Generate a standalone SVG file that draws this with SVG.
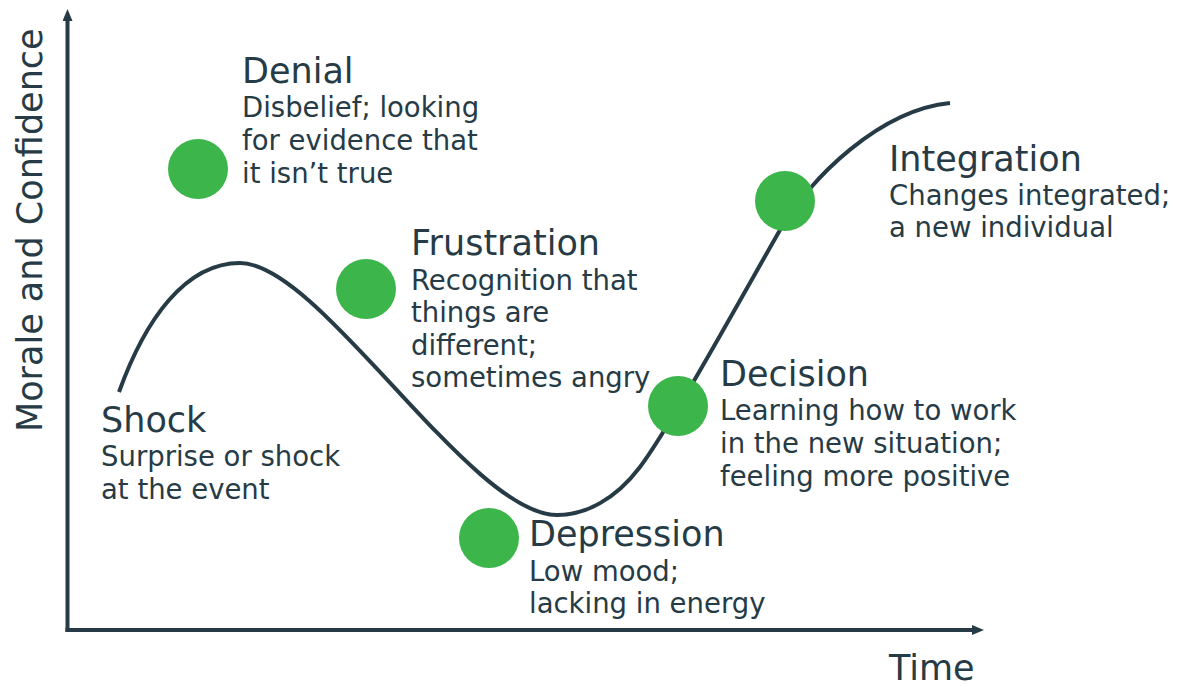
<svg xmlns="http://www.w3.org/2000/svg" width="1179" height="687" viewBox="0 0 1179 687">
<style>
  text { font-family: "DejaVu Sans", Verdana, sans-serif; fill: #263b45; }
  .title { font-size: 35px; }
  .body { font-size: 27.5px; }
  .dot { fill: #3cb54a; }
  .axis { stroke: #263b45; stroke-width: 4; fill: none; }
  .curve { stroke: #263b45; stroke-width: 4; fill: none; stroke-linecap: butt; }
</style>
<defs>
  <marker id="arrow" viewBox="0 0 12 10" refX="1" refY="5" markerWidth="12" markerHeight="10" markerUnits="userSpaceOnUse" orient="auto">
    <path d="M0,0 L12,5 L0,10 Z" fill="#263b45"/>
  </marker>
</defs>
<rect width="1179" height="687" fill="#ffffff"/>
<g id="axes">
  <path class="axis" d="M67.5,632 L67.5,20" marker-end="url(#arrow)"/>
  <path class="axis" d="M65.5,630 L973,630" marker-end="url(#arrow)"/>
  <text class="title" transform="translate(42,432) rotate(-90)">Morale and Confidence</text>
  <text class="title" x="889" y="680">Time</text>
</g>
<g id="connectors">
  <path class="curve" d="M119,392 C145,320 185,263 240,263 C320,263 470,515 557,515 C585,515 615,500 640,467 C670,427 740,300 780,230 C810,178 880,110 950,103"/>
</g>
<g id="node-shock">
  <text class="title" x="101" y="432">Shock</text>
  <text class="body" x="101" y="466">Surprise or shock</text>
  <text class="body" x="101" y="499">at the event</text>
</g>
<g id="node-denial">
  <circle class="dot" cx="198" cy="169" r="30"/>
  <text class="title" x="242" y="83">Denial</text>
  <text class="body" x="242" y="117">Disbelief; looking</text>
  <text class="body" x="242" y="150">for evidence that</text>
  <text class="body" x="242" y="183">it isn’t true</text>
</g>
<g id="node-frustration">
  <circle class="dot" cx="366" cy="289" r="30"/>
  <text class="title" x="411" y="255">Frustration</text>
  <text class="body" x="411" y="290">Recognition that</text>
  <text class="body" x="411" y="322">things are</text>
  <text class="body" x="411" y="355">different;</text>
  <text class="body" x="411" y="387">sometimes angry</text>
</g>
<g id="node-depression">
  <circle class="dot" cx="489" cy="538" r="30"/>
  <text class="title" x="529" y="546">Depression</text>
  <text class="body" x="529" y="581">Low mood;</text>
  <text class="body" x="529" y="613">lacking in energy</text>
</g>
<g id="node-decision">
  <circle class="dot" cx="678" cy="406" r="30"/>
  <text class="title" x="720" y="386">Decision</text>
  <text class="body" x="720" y="420">Learning how to work</text>
  <text class="body" x="720" y="453">in the new situation;</text>
  <text class="body" x="720" y="486">feeling more positive</text>
</g>
<g id="node-integration">
  <circle class="dot" cx="785" cy="201" r="30"/>
  <text class="title" x="889" y="171">Integration</text>
  <text class="body" x="889" y="205">Changes integrated;</text>
  <text class="body" x="889" y="237">a new individual</text>
</g>
</svg>
